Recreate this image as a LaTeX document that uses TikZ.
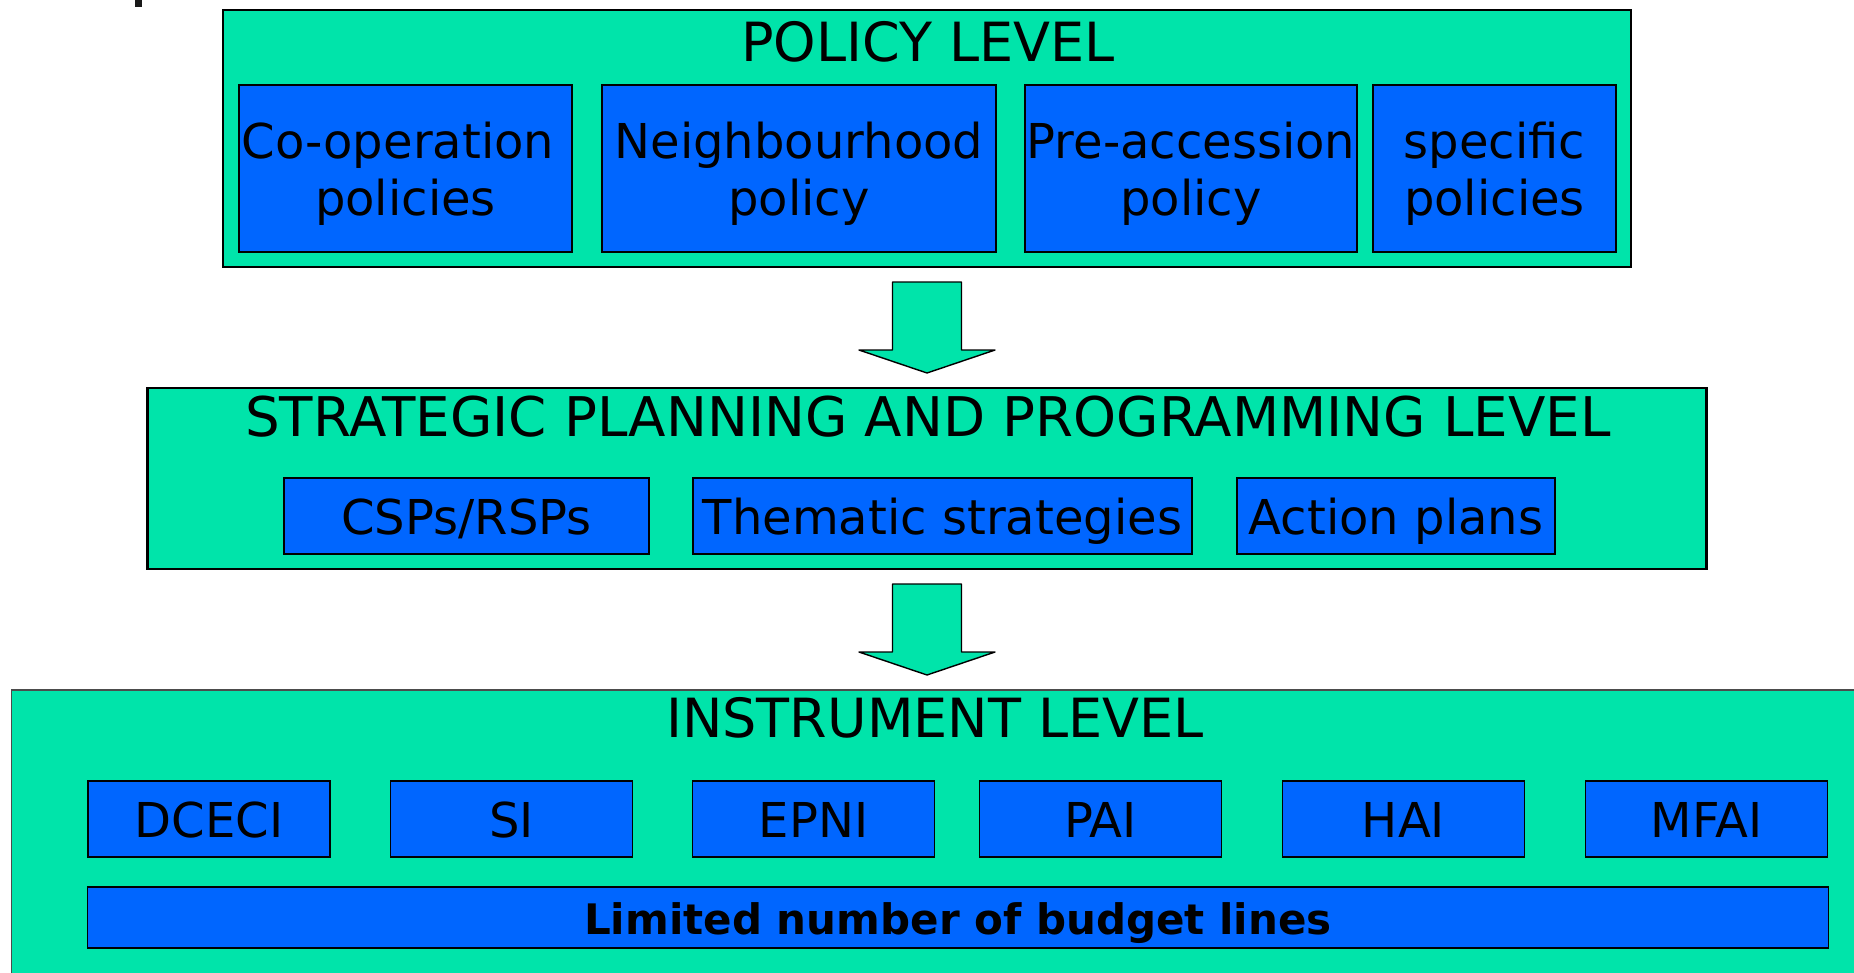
\documentclass[tikz,border=0pt]{standalone}
\usepackage{fontspec}
\setmainfont{DejaVu Sans}
\usepackage{tikz}
\usetikzlibrary{positioning}
\definecolor{levelgreen}{RGB}{0,228,170}
\definecolor{itemblue}{RGB}{0,102,255}
\tikzset{
  levelbox/.style={draw=black,fill=levelgreen,line width=0.6pt,inner sep=0pt},
  itembox/.style={draw=black,fill=itemblue,line width=0.5pt,inner sep=0pt,align=center,
    font=\fontsize{13.66}{16.22}\selectfont,text height=0.379cm,text depth=0pt},
  twoline/.style={text height=0.949cm},
  leveltitle/.style={anchor=base,inner sep=0pt,font=\fontsize{15.36}{18}\selectfont},
  downarrow/.pic={\draw[fill=levelgreen,line width=0.4pt,line join=round]
    (-34.5,0) -- (34.5,0) -- (34.5,68) -- (68,68) -- (0,91) -- (-68,68) -- (-34.5,68) -- cycle;}
}

\begin{document}
\begin{tikzpicture}[x=0.01cm,y=-0.01cm]
\useasboundingbox (0,0) rectangle (1854,972);
\clip (0,0) rectangle (1854,972);
\fill[black!90] (135,0) rectangle (142,7);
% policy level
\node[levelbox,minimum width=14.08cm,minimum height=2.57cm] (policy) at (927,138.5) {};
\node[leveltitle] (policyt) at (928,61) {POLICY LEVEL};
\node[itembox,twoline,minimum width=3.33cm,minimum height=1.67cm] (coop) at (405.5,168.5) {Co-operation\hspace*{0.318em}\\policies};
\node[itembox,twoline,minimum width=3.94cm,minimum height=1.67cm] (neigh) at (799,168.5) {Neighbourhood\\policy};
\node[itembox,twoline,minimum width=3.32cm,minimum height=1.67cm] (preacc) at (1191,168.5) {Pre-accession\\policy};
\node[itembox,twoline,minimum width=2.43cm,minimum height=1.67cm] (specific) at (1494.5,168.5) {specific\\policies};
\pic at (927,282) {downarrow};
% strategic planning and programming level
\node[levelbox,minimum width=15.58cm,minimum height=1.81cm] (strategic) at (927,478.5) {};
\node[leveltitle,font=\fontsize{15.55}{18}\selectfont] (strategict) at (928,436) {STRATEGIC PLANNING AND PROGRAMMING LEVEL};
\node[itembox,minimum width=3.65cm,minimum height=0.76cm] (csps) at (466.5,516) {CSPs/RSPs};
\node[itembox,minimum width=4.99cm,minimum height=0.76cm] (thematic) at (942.5,516) {Thematic strategies};
\node[itembox,minimum width=3.18cm,minimum height=0.76cm] (action) at (1396,516) {Action plans};
\pic at (927,584) {downarrow};
% instrument level
\node[levelbox,draw=black!70,line width=0.4pt,minimum width=18.68cm,minimum height=3.10cm] (instrument) at (946,845) {};
\node[leveltitle] (instrumentt) at (935,737) {INSTRUMENT LEVEL};
\node[itembox,minimum width=2.42cm,minimum height=0.76cm] (dceci) at (209,819) {DCECI};
\node[itembox,minimum width=2.42cm,minimum height=0.76cm] (si) at (511.5,819) {SI};
\node[itembox,minimum width=2.42cm,minimum height=0.76cm] (epni) at (813.5,819) {EPNI};
\node[itembox,minimum width=2.42cm,minimum height=0.76cm] (pai) at (1100.5,819) {PAI};
\node[itembox,minimum width=2.42cm,minimum height=0.76cm] (hai) at (1403.5,819) {HAI};
\node[itembox,minimum width=2.42cm,minimum height=0.76cm] (mfai) at (1706.5,819) {MFAI};
\node[itembox,minimum width=17.40cm,minimum height=0.61cm,text height=0.332cm,font=\fontsize{11.95}{14}\selectfont\bfseries] (budget) at (958,917.5) {Limited number of budget lines};
\end{tikzpicture}
\end{document}
